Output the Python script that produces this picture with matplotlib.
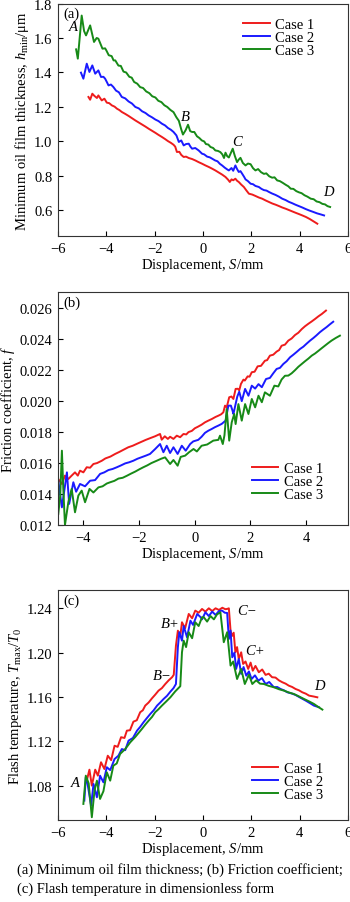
import numpy as np
import matplotlib
matplotlib.use('Agg')
import matplotlib.pyplot as plt

plt.rcParams['font.family'] = ['Liberation Serif', 'DejaVu Serif']
plt.rcParams['mathtext.fontset'] = 'custom'
plt.rcParams['mathtext.rm'] = 'Liberation Serif'
plt.rcParams['mathtext.it'] = 'Liberation Serif:italic'
plt.rcParams['font.size'] = 10.5

cases = ['Case 1', 'Case 2', 'Case 3']
colors = ['#ee1c1c', '#1a1aff', '#178a17']

# (a) minimum oil film thickness
a_x1 = [-4.74, -4.67, -4.58, -4.50, -4.39, -4.33, -4.19, -4.08, -3.98, -3.88, -3.77, -3.66, -3.56, -3.46, -3.36,
        -3.22, -3.08, -2.94, -2.80, -2.66, -2.52, -2.38, -2.25, -2.11, -1.97, -1.84, -1.70, -1.57, -1.45, -1.33,
        -1.22, -1.15, -1.08, -0.98, -0.90, -0.80, -0.70, -0.59, -0.45, -0.32, -0.18, -0.04, 0.10, 0.24, 0.38,
        0.51, 0.65, 0.79, 0.93, 1.04, 1.11, 1.18, 1.25, 1.34, 1.41, 1.48, 1.58, 1.69, 1.80, 1.90, 2.04, 2.17,
        2.31, 2.45, 2.59, 2.73, 2.87, 3.01, 3.15, 3.28, 3.42, 3.56, 3.70, 3.84, 3.97, 4.11, 4.26, 4.42, 4.57, 4.73]
a_y1 = [1.258, 1.242, 1.277, 1.265, 1.252, 1.267, 1.238, 1.248, 1.225, 1.222, 1.209, 1.202, 1.190, 1.182, 1.171,
        1.160, 1.148, 1.135, 1.122, 1.110, 1.098, 1.086, 1.074, 1.062, 1.050, 1.038, 1.026, 1.014, 1.002, 0.992,
        0.981, 0.970, 0.939, 0.940, 0.922, 0.910, 0.912, 0.904, 0.898, 0.890, 0.880, 0.871, 0.861, 0.852, 0.842,
        0.832, 0.820, 0.808, 0.794, 0.778, 0.765, 0.780, 0.775, 0.784, 0.772, 0.765, 0.750, 0.736, 0.715, 0.697,
        0.692, 0.684, 0.675, 0.668, 0.658, 0.649, 0.640, 0.633, 0.625, 0.617, 0.610, 0.602, 0.594, 0.586, 0.579,
        0.571, 0.562, 0.550, 0.537, 0.523]
a_x2 = [-5.05, -4.95, -4.81, -4.70, -4.58, -4.46, -4.33, -4.22, -4.12, -4.05, -3.98, -3.91, -3.81, -3.71, -3.60,
        -3.48, -3.36, -3.22, -3.08, -2.94, -2.80, -2.66, -2.52, -2.38, -2.25, -2.11, -1.97, -1.84, -1.70, -1.57,
        -1.45, -1.33, -1.22, -1.10, -1.00, -0.90, -0.80, -0.70, -0.59, -0.52, -0.45, -0.32, -0.18, -0.04, 0.05,
        0.17, 0.28, 0.38, 0.50, 0.60, 0.70, 0.79, 0.90, 1.00, 1.07, 1.18, 1.25, 1.34, 1.41, 1.48, 1.55, 1.62,
        1.70, 1.76, 1.86, 1.97, 2.07, 2.17, 2.31, 2.42, 2.52, 2.63, 2.73, 2.86, 3.00, 3.14, 3.28, 3.42, 3.55,
        3.69, 3.83, 3.97, 4.11, 4.25, 4.39, 4.55, 4.72, 4.87, 5.01]
a_y2 = [1.399, 1.364, 1.451, 1.403, 1.441, 1.393, 1.412, 1.374, 1.375, 1.364, 1.345, 1.325, 1.330, 1.316, 1.295,
        1.285, 1.258, 1.250, 1.232, 1.220, 1.200, 1.192, 1.175, 1.165, 1.151, 1.140, 1.127, 1.118, 1.103, 1.093,
        1.078, 1.068, 1.055, 1.035, 0.997, 1.006, 0.977, 0.985, 0.987, 0.970, 0.958, 0.962, 0.948, 0.929, 0.925,
        0.912, 0.908, 0.900, 0.890, 0.885, 0.870, 0.861, 0.848, 0.838, 0.832, 0.846, 0.830, 0.861, 0.840, 0.823,
        0.828, 0.813, 0.795, 0.780, 0.770, 0.755, 0.752, 0.742, 0.736, 0.725, 0.718, 0.715, 0.707, 0.698, 0.690,
        0.680, 0.668, 0.660, 0.650, 0.642, 0.633, 0.625, 0.617, 0.608, 0.600, 0.592, 0.583, 0.577, 0.571]
a_x3 = [-5.25, -5.18, -5.02, -4.92, -4.84, -4.67, -4.51, -4.40, -4.33, -4.16, -4.05, -4.00, -3.90, -3.78, -3.70,
        -3.63, -3.50, -3.40, -3.29, -3.18, -3.05, -2.95, -2.85, -2.72, -2.60, -2.48, -2.35, -2.22, -2.10, -1.97,
        -1.85, -1.72, -1.60, -1.48, -1.35, -1.22, -1.10, -1.00, -0.90, -0.83, -0.72, -0.62, -0.53, -0.45, -0.36,
        -0.25, -0.15, -0.05, 0.05, 0.12, 0.22, 0.31, 0.42, 0.51, 0.62, 0.72, 0.80, 0.87, 0.93, 1.00, 1.07, 1.23,
        1.32, 1.41, 1.48, 1.55, 1.65, 1.76, 1.86, 1.97, 2.07, 2.17, 2.28, 2.40, 2.52, 2.62, 2.74, 2.86, 2.96,
        3.07, 3.18, 3.30, 3.42, 3.53, 3.63, 3.74, 3.86, 3.97, 4.08, 4.20, 4.32, 4.46, 4.58, 4.70, 4.82, 4.94,
        5.05, 5.15, 5.26]
a_y3 = [1.534, 1.480, 1.730, 1.640, 1.615, 1.673, 1.577, 1.600, 1.596, 1.538, 1.540, 1.528, 1.500, 1.495, 1.470,
        1.470, 1.440, 1.438, 1.405, 1.400, 1.375, 1.370, 1.345, 1.335, 1.315, 1.310, 1.290, 1.280, 1.262, 1.255,
        1.236, 1.228, 1.210, 1.200, 1.183, 1.170, 1.140, 1.120, 1.070, 1.040, 1.065, 1.097, 1.060, 1.055, 1.055,
        1.030, 1.020, 1.006, 1.000, 0.985, 0.982, 0.968, 0.962, 0.948, 0.945, 0.938, 0.925, 0.904, 0.935, 0.915,
        0.907, 0.958, 0.915, 0.880, 0.895, 0.905, 0.875, 0.861, 0.872, 0.868, 0.845, 0.832, 0.840, 0.822, 0.812,
        0.815, 0.798, 0.790, 0.792, 0.774, 0.770, 0.760, 0.749, 0.740, 0.726, 0.725, 0.712, 0.705, 0.700, 0.688,
        0.680, 0.668, 0.665, 0.652, 0.648, 0.638, 0.635, 0.625, 0.620]

# (b) friction coefficient
b_x1 = [-4.89, -4.76, -4.65, -4.53, -4.41, -4.29, -4.19, -4.11, -3.99, -3.87, -3.75, -3.63, -3.50, -3.33, -3.20,
        -3.02, -2.85, -2.70, -2.53, -2.38, -2.22, -2.05, -1.90, -1.75, -1.58, -1.42, -1.24, -1.18, -1.07, -0.96,
        -0.88, -0.76, -0.64, -0.52, -0.40, -0.30, -0.22, -0.10, 0.01, 0.12, 0.25, 0.37, 0.49, 0.62, 0.75, 0.85,
        0.95, 1.03, 1.09, 1.15, 1.24, 1.32, 1.39, 1.47, 1.55, 1.60, 1.66, 1.75, 1.80, 1.90, 1.97, 2.05, 2.15,
        2.26, 2.38, 2.52, 2.60, 2.70, 2.82, 2.94, 3.03, 3.12, 3.24, 3.36, 3.48, 3.60, 3.72, 3.84, 3.96, 4.08,
        4.20, 4.32, 4.44, 4.56, 4.71]
b_y1 = [0.01497, 0.01465, 0.01519, 0.01497, 0.01519, 0.01540, 0.01519, 0.01551, 0.01540, 0.01573, 0.01570,
        0.01594, 0.01600, 0.01615, 0.01630, 0.01642, 0.01659, 0.01672, 0.01688, 0.01702, 0.01712, 0.01726,
        0.01738, 0.01750, 0.01762, 0.01773, 0.01788, 0.01751, 0.01773, 0.01756, 0.01770, 0.01756, 0.01777,
        0.01767, 0.01788, 0.01785, 0.01800, 0.01808, 0.01825, 0.01835, 0.01848, 0.01863, 0.01874, 0.01885,
        0.01898, 0.01906, 0.01915, 0.01928, 0.01971, 0.01960, 0.02025, 0.02030, 0.02014, 0.02079, 0.02080,
        0.02070, 0.02111, 0.02139, 0.02133, 0.02160, 0.02158, 0.02187, 0.02190, 0.02225, 0.02228, 0.02261,
        0.02265, 0.02294, 0.02300, 0.02320, 0.02330, 0.02358, 0.02365, 0.02391, 0.02405, 0.02427, 0.02442,
        0.02465, 0.02484, 0.02500, 0.02515, 0.02531, 0.02548, 0.02563, 0.02585]
b_x2 = [-4.89, -4.76, -4.58, -4.50, -4.35, -4.25, -4.11, -3.93, -3.75, -3.57, -3.39, -3.24, -3.09, -2.94, -2.79,
        -2.64, -2.49, -2.35, -2.20, -2.05, -1.90, -1.75, -1.60, -1.42, -1.24, -1.12, -1.00, -0.88, -0.76, -0.61,
        -0.46, -0.32, -0.16, -0.05, 0.13, 0.25, 0.37, 0.49, 0.61, 0.73, 0.85, 0.97, 1.11, 1.21, 1.30, 1.36,
        1.39, 1.53, 1.60, 1.69, 1.81, 1.93, 2.05, 2.17, 2.29, 2.41, 2.56, 2.70, 2.82, 2.94, 3.06, 3.18, 3.30,
        3.42, 3.54, 3.66, 3.78, 3.90, 4.02, 4.14, 4.26, 4.37, 4.49, 4.61, 4.73, 4.85, 4.97]
b_y2 = [0.01486, 0.01314, 0.01540, 0.01336, 0.01476, 0.01415, 0.01465, 0.01450, 0.01486, 0.01490, 0.01530,
        0.01540, 0.01555, 0.01562, 0.01573, 0.01585, 0.01598, 0.01605, 0.01615, 0.01628, 0.01638, 0.01648,
        0.01659, 0.01690, 0.01723, 0.01670, 0.01712, 0.01665, 0.01702, 0.01659, 0.01712, 0.01680, 0.01723,
        0.01740, 0.01750, 0.01770, 0.01795, 0.01809, 0.01820, 0.01832, 0.01842, 0.01853, 0.01874, 0.01971,
        0.01971, 0.01938, 0.01917, 0.02030, 0.02061, 0.02000, 0.02079, 0.02035, 0.02100, 0.02081, 0.02110,
        0.02090, 0.02143, 0.02150, 0.02180, 0.02208, 0.02215, 0.02240, 0.02258, 0.02283, 0.02300, 0.02318,
        0.02337, 0.02352, 0.02372, 0.02391, 0.02408, 0.02425, 0.02445, 0.02462, 0.02478, 0.02496, 0.02513]
b_x3 = [-4.89, -4.82, -4.76, -4.71, -4.65, -4.53, -4.41, -4.29, -4.17, -4.05, -3.93, -3.77, -3.63, -3.45, -3.30,
        -3.15, -3.03, -2.88, -2.73, -2.58, -2.43, -2.28, -2.13, -1.98, -1.84, -1.70, -1.55, -1.36, -1.20, -1.06,
        -0.88, -0.76, -0.61, -0.50, -0.34, -0.20, -0.04, 0.08, 0.25, 0.45, 0.67, 0.85, 0.91, 1.01, 1.07, 1.15,
        1.24, 1.33, 1.42, 1.47, 1.57, 1.69, 1.81, 1.93, 2.05, 2.17, 2.29, 2.41, 2.52, 2.70, 2.86, 3.00, 3.12,
        3.24, 3.36, 3.48, 3.60, 3.72, 3.84, 3.96, 4.08, 4.20, 4.32, 4.44, 4.55, 4.67, 4.79, 4.91, 5.06, 5.21]
b_y3 = [0.01271, 0.01390, 0.01680, 0.01433, 0.01200, 0.01347, 0.01433, 0.01282, 0.01390, 0.01422, 0.01347,
        0.01433, 0.01410, 0.01443, 0.01450, 0.01468, 0.01476, 0.01485, 0.01500, 0.01505, 0.01518, 0.01532,
        0.01545, 0.01560, 0.01573, 0.01585, 0.01600, 0.01615, 0.01628, 0.01637, 0.01594, 0.01620, 0.01583,
        0.01640, 0.01648, 0.01670, 0.01691, 0.01675, 0.01712, 0.01720, 0.01745, 0.01750, 0.01777, 0.01723,
        0.01780, 0.01949, 0.01745, 0.01863, 0.01917, 0.01852, 0.01981, 0.01874, 0.01981, 0.01917, 0.02014,
        0.01960, 0.02035, 0.01993, 0.02057, 0.02035, 0.02100, 0.02095, 0.02140, 0.02164, 0.02165, 0.02180,
        0.02200, 0.02222, 0.02240, 0.02258, 0.02275, 0.02294, 0.02308, 0.02325, 0.02341, 0.02358, 0.02375,
        0.02391, 0.02408, 0.02423]

# (c) flash temperature
c_x1 = [-4.81, -4.70, -4.60, -4.46, -4.35, -4.22, -4.08, -3.94, -3.80, -3.66, -3.53, -3.39, -3.25, -3.15, -3.02,
        -2.88, -2.74, -2.60, -2.49, -2.39, -2.25, -2.11, -1.98, -1.84, -1.70, -1.56, -1.42, -1.28, -1.21, -1.12,
        -1.04, -0.94, -0.87, -0.74, -0.59, -0.45, -0.32, -0.18, -0.04, 0.10, 0.24, 0.38, 0.52, 0.66, 0.80, 0.92,
        1.00, 1.07, 1.14, 1.20, 1.27, 1.34, 1.41, 1.48, 1.58, 1.66, 1.76, 1.87, 1.97, 2.06, 2.17, 2.31, 2.45,
        2.59, 2.72, 2.86, 3.00, 3.14, 3.28, 3.42, 3.55, 3.69, 3.83, 3.97, 4.11, 4.25, 4.39, 4.56, 4.73]
c_y1 = [1.0845, 1.0944, 1.0800, 1.0944, 1.0890, 1.1011, 1.0950, 1.1070, 1.1030, 1.1160, 1.1150, 1.1237, 1.1230,
        1.1296, 1.1300, 1.1377, 1.1390, 1.1462, 1.1480, 1.1522, 1.1550, 1.1588, 1.1620, 1.1657, 1.1680, 1.1717,
        1.1750, 1.1778, 1.1800, 1.2063, 1.2198, 1.2150, 1.2274, 1.2220, 1.2349, 1.2310, 1.2379, 1.2360, 1.2394,
        1.2370, 1.2400, 1.2375, 1.2400, 1.2385, 1.2405, 1.2392, 1.2394, 1.2400, 1.2198, 1.2150, 1.2180, 1.2003,
        1.2050, 1.1943, 1.2003, 1.1898, 1.1920, 1.1853, 1.1910, 1.1837, 1.1880, 1.1823, 1.1848, 1.1799, 1.1810,
        1.1778, 1.1775, 1.1750, 1.1733, 1.1720, 1.1702, 1.1690, 1.1672, 1.1660, 1.1642, 1.1630, 1.1612, 1.1605,
        1.1597]
c_x2 = [-4.91, -4.85, -4.81, -4.63, -4.53, -4.39, -4.26, -4.12, -3.98, -3.84, -3.66, -3.50, -3.36, -3.22, -3.08,
        -2.90, -2.73, -2.60, -2.46, -2.32, -2.18, -2.04, -1.90, -1.77, -1.63, -1.49, -1.35, -1.22, -1.12, -1.04,
        -0.98, -0.87, -0.80, -0.66, -0.52, -0.41, -0.24, -0.10, -0.04, 0.10, 0.24, 0.38, 0.52, 0.66, 0.79, 0.90,
        1.00, 1.07, 1.14, 1.21, 1.30, 1.37, 1.48, 1.58, 1.68, 1.79, 1.90, 2.01, 2.15, 2.29, 2.44, 2.59, 2.74,
        2.93, 3.07, 3.21, 3.35, 3.49, 3.66, 3.83, 4.04, 4.25, 4.42, 4.59, 4.80]
c_y2 = [1.0665, 1.0876, 1.0860, 1.0620, 1.0815, 1.0695, 1.0890, 1.0830, 1.0966, 1.0940, 1.1040, 1.1070, 1.1130,
        1.1120, 1.1206, 1.1230, 1.1296, 1.1330, 1.1372, 1.1410, 1.1447, 1.1480, 1.1522, 1.1550, 1.1582, 1.1610,
        1.1648, 1.1680, 1.1717, 1.2048, 1.2184, 1.2108, 1.2240, 1.2138, 1.2288, 1.2250, 1.2349, 1.2320, 1.2300,
        1.2364, 1.2330, 1.2370, 1.2340, 1.2375, 1.2379, 1.2360, 1.2358, 1.2123, 1.2200, 1.1958, 1.2000, 1.1853,
        1.1943, 1.1808, 1.1870, 1.1792, 1.1830, 1.1762, 1.1795, 1.1747, 1.1770, 1.1717, 1.1735, 1.1688, 1.1690,
        1.1672, 1.1660, 1.1642, 1.1632, 1.1618, 1.1592, 1.1567, 1.1545, 1.1522, 1.1507]
c_x3 = [-4.95, -4.85, -4.73, -4.60, -4.49, -4.39, -4.26, -4.12, -3.98, -3.84, -3.71, -3.57, -3.43, -3.22, -3.01,
        -2.80, -2.53, -2.39, -2.25, -2.11, -1.98, -1.84, -1.70, -1.52, -1.35, -1.15, -0.94, -0.87, -0.80, -0.70,
        -0.59, -0.45, -0.32, -0.18, -0.04, 0.03, 0.17, 0.31, 0.45, 0.58, 0.72, 0.86, 1.00, 1.14, 1.25, 1.41,
        1.58, 1.73, 1.90, 2.04, 2.20, 2.36, 2.52, 2.72, 2.93, 3.14, 3.35, 3.56, 3.76, 3.97, 4.18, 4.39, 4.59,
        4.77, 4.94]
c_y3 = [1.0635, 1.0890, 1.0820, 1.0515, 1.0755, 1.0845, 1.0680, 1.0750, 1.0920, 1.0845, 1.0980, 1.1000, 1.1086,
        1.1130, 1.1191, 1.1240, 1.1311, 1.1350, 1.1386, 1.1420, 1.1462, 1.1490, 1.1522, 1.1560, 1.1597, 1.1650,
        1.1697, 1.2003, 1.2108, 1.2050, 1.2184, 1.2130, 1.2274, 1.2240, 1.2319, 1.2320, 1.2280, 1.2330, 1.2300,
        1.2345, 1.2364, 1.2094, 1.2184, 1.1883, 1.1920, 1.1762, 1.1853, 1.1717, 1.1800, 1.1717, 1.1750, 1.1720,
        1.1717, 1.1700, 1.1688, 1.1670, 1.1657, 1.1640, 1.1627, 1.1605, 1.1582, 1.1560, 1.1537, 1.1510, 1.1486]

panels = [
    ([a_x1, a_x2, a_x3], [a_y1, a_y2, a_y3]),
    ([b_x1, b_x2, b_x3], [b_y1, b_y2, b_y3]),
    ([c_x1, c_x2, c_x3], [c_y1, c_y2, c_y3]),
]

fig = plt.figure(figsize=(3.5, 9.03), dpi=100)
W, H = 350.0, 903.0
# pixel boxes: left, top, right, bottom
boxes = [(58, 4.5, 348, 237.3), (58, 293, 348, 526), (58, 591, 348, 821)]
axes = []
for (l, t, r, b) in boxes:
    axes.append(fig.add_axes([l / W, 1 - b / H, (r - l) / W, (b - t) / H]))

for ax, (xs, ys) in zip(axes, panels):
    for x, y, c, lab in zip(xs, ys, colors, cases):
        ax.plot(x, y, color=c, lw=1.4, label=lab)
    ax.tick_params(direction='in', length=3.6, width=0.8, labelsize=10.5, pad=4)
    for s in ax.spines.values():
        s.set_linewidth(0.8)
        s.set_color('#333333')

ax = axes[0]
ax.set_xlim(-6, 6)
ax.set_ylim(0.45, 1.8)
ax.set_xticks(np.arange(-6, 7, 2))
ax.set_yticks(np.arange(0.6, 1.81, 0.2))
ax.yaxis.set_major_formatter(matplotlib.ticker.FormatStrFormatter('%.1f'))
ax.set_xlabel('Displacement, $\\mathit{S}$/mm', labelpad=1)
ax.set_ylabel('Minimum oil film thickness, $\\mathit{h}_{\\mathrm{min}}$/μm', labelpad=2)
ax.text(0.02, 0.985, '(a)', transform=ax.transAxes, va='top', ha='left')
ax.text(-5.39, 1.665, 'A', style='italic', ha='center', va='center')
ax.text(-0.73, 1.143, 'B', style='italic', ha='center', va='center')
ax.text(1.42, 0.998, 'C', style='italic', ha='center', va='center')
ax.text(5.2, 0.708, 'D', style='italic', ha='center', va='center')
ax.legend(loc='upper right', bbox_to_anchor=(0.91, 0.97), frameon=False, fontsize=10.5,
          handlelength=1.8, handletextpad=0.4, labelspacing=0.0, borderpad=0)

ax = axes[1]
ax.set_xlim(-4.9, 5.5)
ax.set_ylim(0.012, 0.02705)
ax.set_xticks(np.arange(-4, 5, 2))
ax.set_yticks(np.arange(0.012, 0.0261, 0.002))
ax.yaxis.set_major_formatter(matplotlib.ticker.FormatStrFormatter('%.3f'))
ax.set_xlabel('Displacement, $\\mathit{S}$/mm', labelpad=1)
ax.set_ylabel('Friction coefficient, $\\mathit{f}$', labelpad=2)
ax.text(0.02, 0.985, '(b)', transform=ax.transAxes, va='top', ha='left')
ax.legend(loc='lower right', bbox_to_anchor=(0.94, 0.07), frameon=False, fontsize=10.5,
          handlelength=1.8, handletextpad=0.4, labelspacing=0.0, borderpad=0)

ax = axes[2]
ax.set_xlim(-6, 6)
ax.set_ylim(1.049, 1.2565)
ax.set_xticks(np.arange(-6, 7, 2))
ax.set_yticks(np.arange(1.08, 1.241, 0.04))
ax.yaxis.set_major_formatter(matplotlib.ticker.FormatStrFormatter('%.2f'))
ax.set_xlabel('Displacement, $\\mathit{S}$/mm', labelpad=1)
ax.set_ylabel('Flash temperature, $\\mathit{T}_{\\mathrm{max}}/\\mathit{T}_{0}$', labelpad=2)
ax.text(0.02, 0.985, '(c)', transform=ax.transAxes, va='top', ha='left')
ax.text(-5.3, 1.083, 'A', style='italic', ha='center', va='center')
ax.text(-1.35, 1.2259, 'B+', style='italic', ha='center', va='center')
ax.text(-1.70, 1.179, 'B\u2212', style='italic', ha='center', va='center')
ax.text(1.83, 1.238, 'C\u2212', style='italic', ha='center', va='center')
ax.text(2.17, 1.2018, 'C+', style='italic', ha='center', va='center')
ax.text(4.8, 1.170, 'D', style='italic', ha='center', va='center')
ax.legend(loc='lower right', bbox_to_anchor=(0.94, 0.05), frameon=False, fontsize=10.5,
          handlelength=1.8, handletextpad=0.4, labelspacing=0.0, borderpad=0)

fig.text(17 / W, 1 - 870 / H, '(a) Minimum oil film thickness; (b) Friction coefficient;', fontsize=10.5, va='center')
fig.text(17 / W, 1 - 889 / H, '(c) Flash temperature in dimensionless form', fontsize=10.5, va='center')

fig.savefig('out.png', dpi=100)
